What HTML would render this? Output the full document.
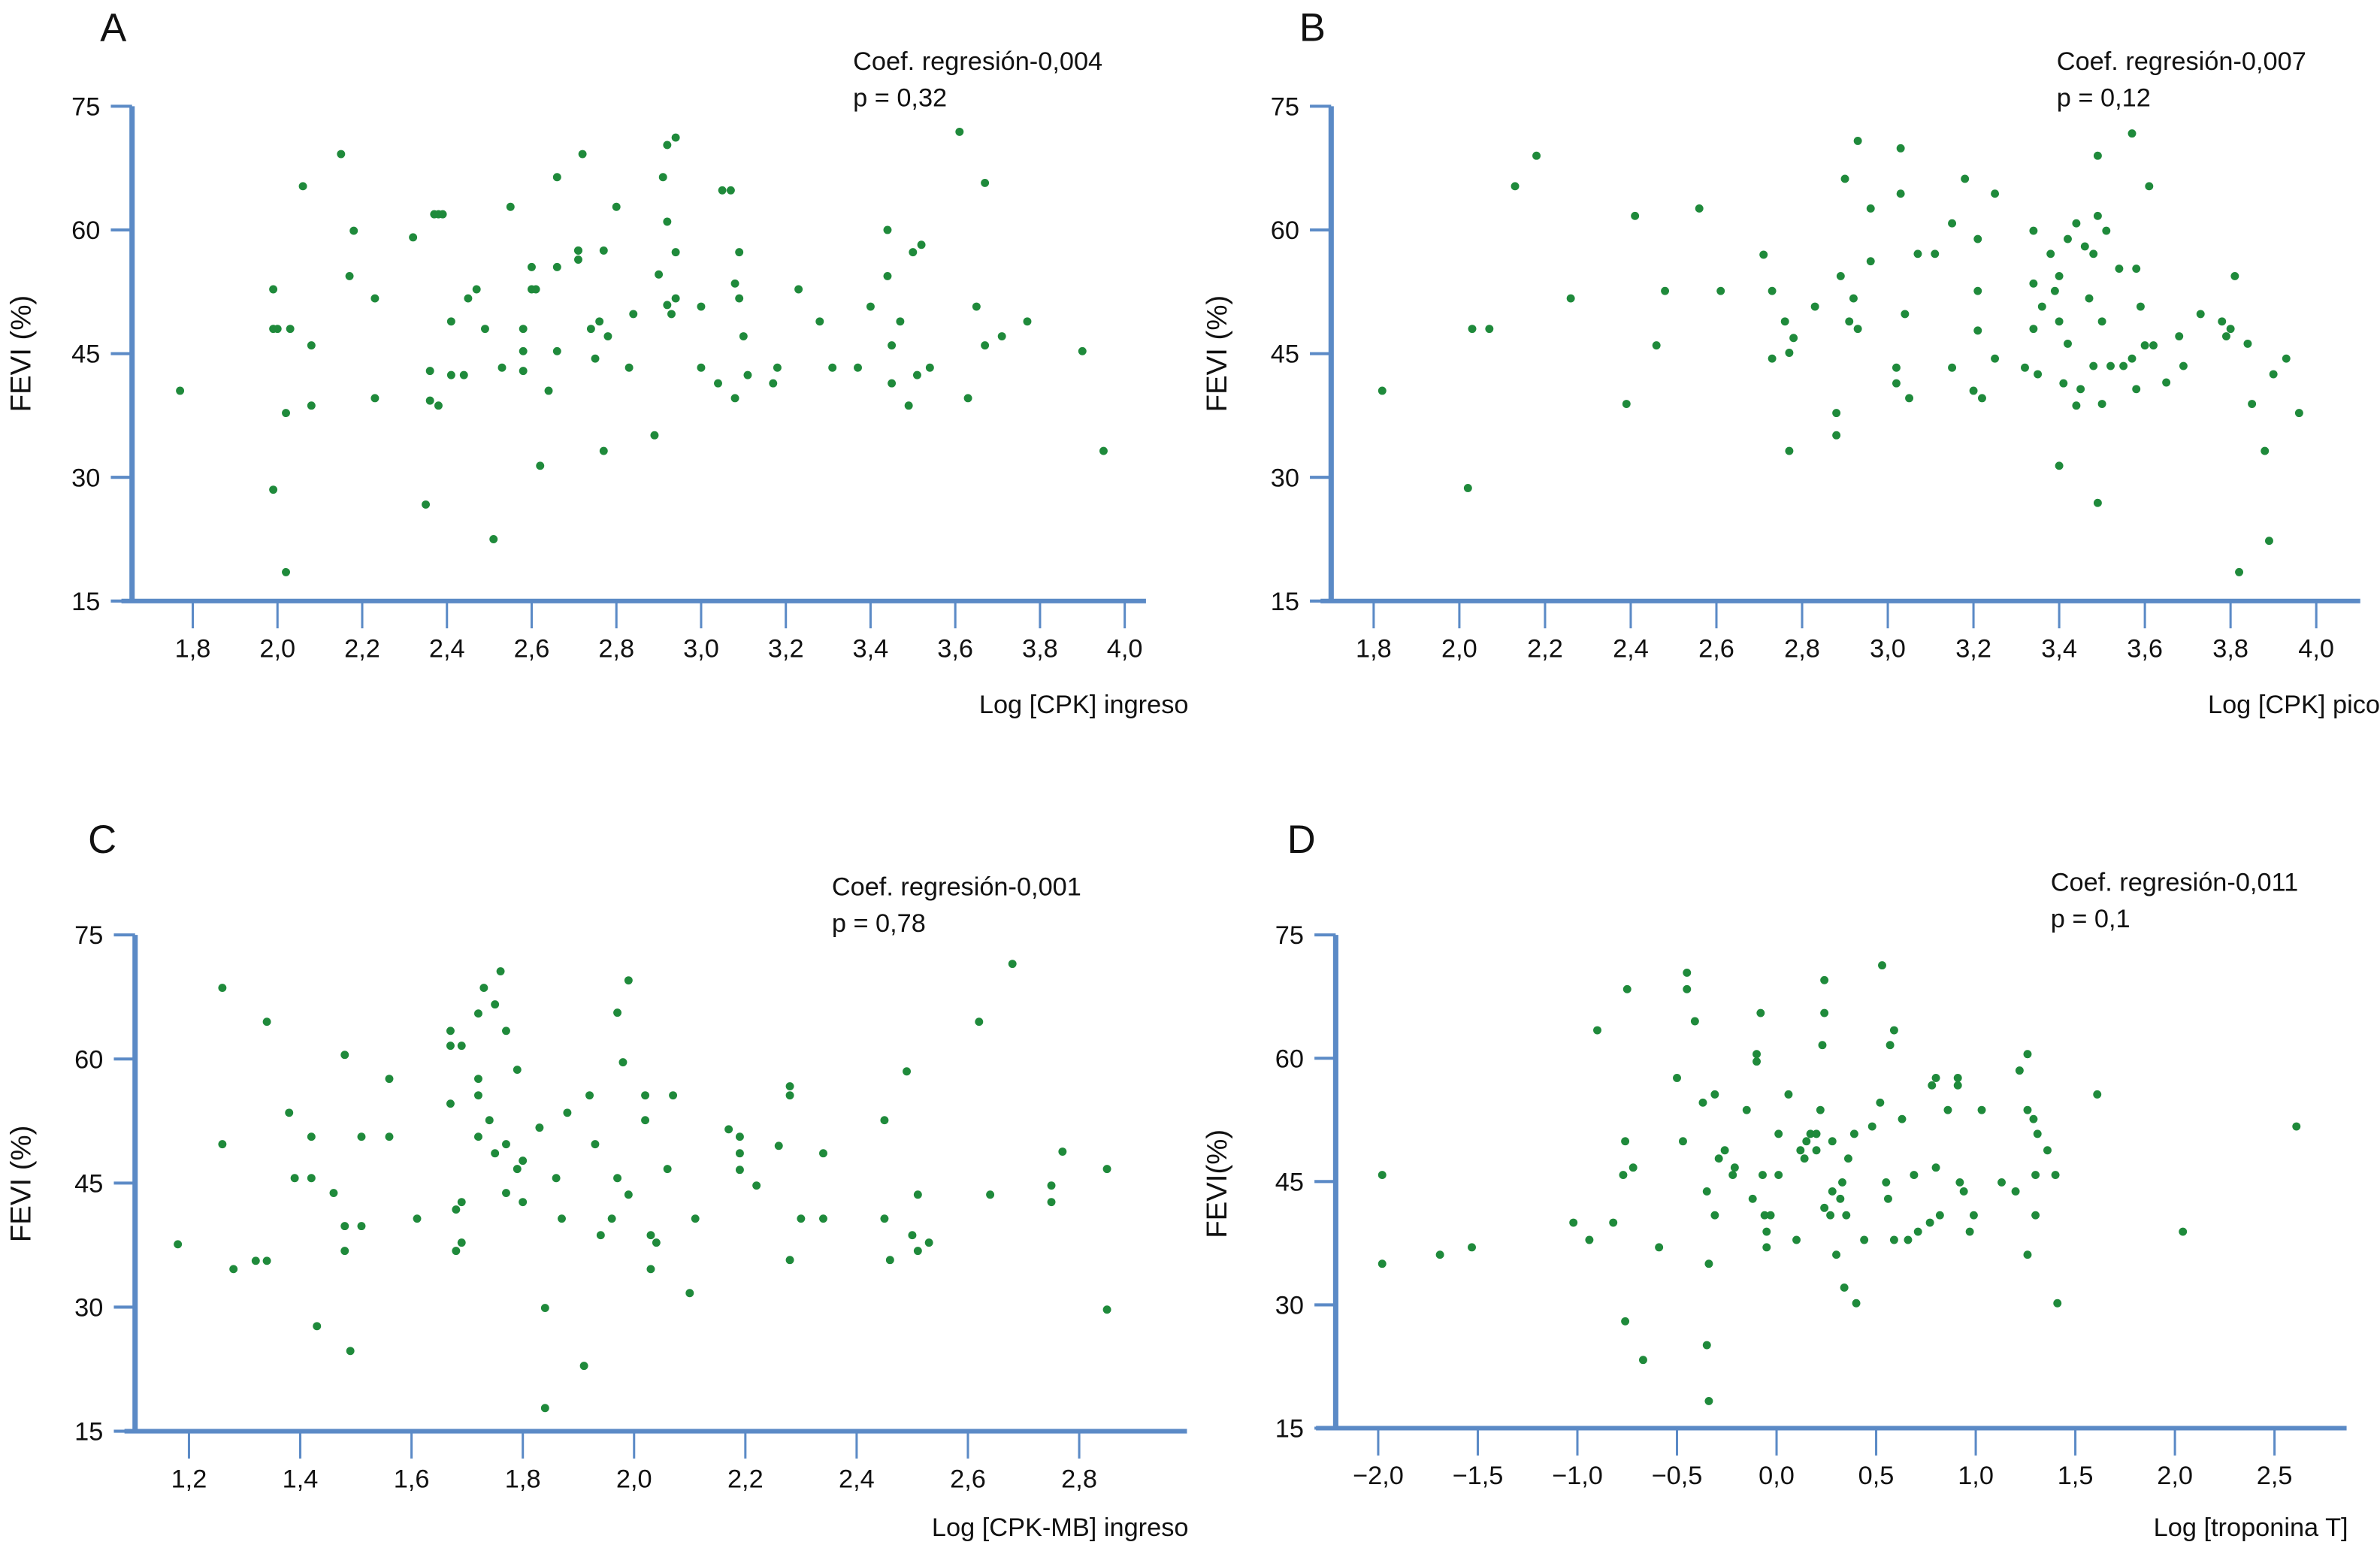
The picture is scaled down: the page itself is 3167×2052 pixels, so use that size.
<!DOCTYPE html>
<html><head><meta charset="utf-8"><style>
html,body{margin:0;padding:0;background:#fff;}
svg{display:block;}
text{font-family:"Liberation Sans",sans-serif;fill:#111;}
</style></head><body>
<svg id="fig" width="3167" height="2052" viewBox="0 0 1568 1016" preserveAspectRatio="none" xmlns="http://www.w3.org/2000/svg"></svg>
<script>
const yTicks=[15,30,45,60,75];
const aTicks=[1.8,2.0,2.2,2.4,2.6,2.8,3.0,3.2,3.4,3.6,3.8,4.0];
const bTicks=[1.8,2.0,2.2,2.4,2.6,2.8,3.0,3.2,3.4,3.6,3.8,4.0];
const cTicks=[1.2,1.4,1.6,1.8,2.0,2.2,2.4,2.6,2.8];
const dTicks=[-2.0,-1.5,-1.0,-0.5,0.0,0.5,1.0,1.5,2.0,2.5];
const aX=[1.77,1.99,1.99,1.99,2.00,2.02,2.02,2.03,2.06,2.08,2.08,2.15,2.17,2.18,2.23,2.23,2.32,2.35,2.36,2.36,2.37,2.38,2.38,2.39,2.41,2.41,2.44,2.45,2.47,2.49,2.51,2.53,2.55,2.58,2.58,2.58,2.60,2.60,2.61,2.62,2.64,2.66,2.66,2.66,2.71,2.72,2.71,2.71,2.74,2.75,2.76,2.77,2.77,2.78,2.80,2.83,2.84,2.89,2.90,2.91,2.92,2.92,2.92,2.93,2.94,2.94,2.94,3.00,3.00,3.04,3.05,3.07,3.08,3.08,3.09,3.10,3.09,3.11,3.17,3.18,3.23,3.28,3.31,3.37,3.40,3.44,3.44,3.45,3.45,3.47,3.49,3.50,3.51,3.52,3.54,3.61,3.63,3.65,3.67,3.67,3.71,3.77,3.90,3.95];
const aY=[40.5,52.8,48.0,28.5,48.0,18.5,37.8,48.0,65.3,38.7,46.0,69.2,54.4,59.9,51.7,39.6,59.1,26.7,39.3,42.9,61.9,38.7,61.9,61.9,42.4,48.9,42.4,51.7,52.8,48.0,22.5,43.3,62.8,42.9,48.0,45.3,52.8,55.5,52.8,31.4,40.5,45.3,66.4,55.5,57.5,69.2,57.5,56.4,48.0,44.4,48.9,57.5,33.2,47.1,62.8,43.3,49.8,35.1,54.6,66.4,70.3,61.0,50.9,49.8,71.2,57.3,51.7,50.7,43.3,41.4,64.8,64.8,53.5,39.6,57.3,47.1,51.7,42.4,41.4,43.3,52.8,48.9,43.3,43.3,50.7,60.0,54.4,46.0,41.4,48.9,38.7,57.3,42.4,58.2,43.3,71.9,39.6,50.7,65.7,46.0,47.1,48.9,45.3,33.2];
const bX=[1.82,2.02,2.03,2.07,2.13,2.18,2.26,2.39,2.41,2.46,2.48,2.56,2.61,2.71,2.73,2.73,2.76,2.77,2.78,2.77,2.83,2.88,2.88,2.89,2.90,2.91,2.92,2.93,2.96,2.96,2.93,3.02,3.02,3.03,3.03,3.04,3.05,3.07,3.11,3.15,3.15,3.18,3.20,3.21,3.21,3.21,3.22,3.25,3.25,3.32,3.34,3.34,3.34,3.35,3.36,3.38,3.39,3.40,3.40,3.40,3.41,3.42,3.42,3.44,3.44,3.45,3.46,3.47,3.48,3.48,3.49,3.49,3.49,3.50,3.50,3.51,3.52,3.54,3.55,3.57,3.57,3.58,3.58,3.59,3.60,3.61,3.62,3.65,3.68,3.69,3.73,3.78,3.79,3.80,3.81,3.82,3.84,3.85,3.88,3.89,3.90,3.93,3.96];
const bY=[40.5,28.7,48.0,48.0,65.3,69.0,51.7,38.9,61.7,46.0,52.6,62.6,52.6,57.0,52.6,44.4,48.9,45.1,46.9,33.2,50.7,37.8,35.1,54.4,66.2,48.9,51.7,70.8,62.6,56.2,48.0,41.4,43.3,69.9,64.4,49.8,39.6,57.1,57.1,43.3,60.8,66.2,40.5,58.9,52.6,47.8,39.6,64.4,44.4,43.3,59.9,53.5,48.0,42.5,50.7,57.1,52.6,31.4,54.4,48.9,41.4,58.9,46.2,60.8,38.7,40.7,58.0,51.7,43.5,57.1,26.9,69.0,61.7,48.9,38.9,59.9,43.5,55.3,43.5,44.4,71.7,55.3,40.7,50.7,46.0,65.3,46.0,41.5,47.1,43.5,49.8,48.9,47.1,48.0,54.4,18.5,46.2,38.9,33.2,22.3,42.5,44.4,37.8];
const cX=[1.18,1.26,1.26,1.28,1.32,1.34,1.34,1.38,1.39,1.42,1.42,1.43,1.46,1.48,1.48,1.48,1.49,1.51,1.51,1.56,1.56,1.61,1.67,1.67,1.67,1.68,1.68,1.69,1.69,1.69,1.72,1.72,1.72,1.72,1.73,1.74,1.75,1.75,1.76,1.77,1.77,1.77,1.79,1.79,1.80,1.80,1.83,1.84,1.84,1.86,1.87,1.88,1.91,1.92,1.93,1.94,1.96,1.97,1.97,1.98,1.99,1.99,2.02,2.02,2.03,2.03,2.04,2.06,2.07,2.10,2.11,2.17,2.19,2.19,2.19,2.22,2.26,2.28,2.28,2.28,2.30,2.34,2.34,2.45,2.46,2.45,2.49,2.50,2.51,2.51,2.53,2.62,2.64,2.68,2.75,2.75,2.77,2.85,2.85];
const cY=[37.6,68.6,49.7,34.6,35.6,35.6,64.5,53.5,45.6,50.6,45.6,27.7,43.8,60.5,36.8,39.8,24.7,50.6,39.8,57.6,50.6,40.7,54.6,63.4,61.6,41.8,36.8,42.7,61.6,37.8,57.6,55.6,65.5,50.6,68.6,52.6,66.6,48.6,70.6,43.8,63.4,49.7,46.7,58.7,47.7,42.7,51.7,29.9,17.8,45.6,40.7,53.5,22.9,55.6,49.7,38.7,40.7,45.6,65.6,59.6,69.5,43.6,55.6,52.6,34.6,38.7,37.8,46.7,55.6,31.7,40.7,51.5,48.6,50.6,46.6,44.7,49.5,55.6,35.7,56.7,40.7,40.7,48.6,52.6,35.7,40.7,58.5,38.7,43.6,36.8,37.8,64.5,43.6,71.5,42.7,44.7,48.8,46.7,29.7];
const dX=[-1.98,-1.98,-1.69,-1.53,-1.02,-0.94,-0.90,-0.82,-0.77,-0.76,-0.75,-0.76,-0.72,-0.67,-0.59,-0.50,-0.47,-0.45,-0.45,-0.41,-0.37,-0.35,-0.35,-0.34,-0.34,-0.31,-0.31,-0.29,-0.26,-0.22,-0.21,-0.15,-0.12,-0.10,-0.10,-0.08,-0.07,-0.06,-0.05,-0.05,-0.03,0.01,0.01,0.06,0.10,0.12,0.14,0.15,0.17,0.20,0.20,0.22,0.23,0.24,0.24,0.24,0.27,0.28,0.28,0.30,0.32,0.33,0.34,0.35,0.36,0.39,0.40,0.44,0.48,0.52,0.53,0.55,0.56,0.57,0.59,0.59,0.63,0.66,0.69,0.71,0.77,0.78,0.80,0.80,0.82,0.86,0.92,0.94,0.91,0.91,0.99,0.97,1.03,1.13,1.20,1.22,1.26,1.26,1.29,1.31,1.36,1.30,1.40,1.30,1.26,1.41,1.61,2.04,2.61];
const dY=[45.8,35.0,36.1,37.0,40.0,37.9,63.4,40.0,45.8,49.9,68.4,28.0,46.7,23.3,37.0,57.6,49.9,70.4,68.4,64.5,54.6,43.8,25.1,35.0,18.3,55.6,40.9,47.8,48.8,45.8,46.7,53.7,42.9,60.5,59.6,65.5,45.8,40.9,37.0,38.9,40.9,45.8,50.8,55.6,37.9,48.8,47.8,49.9,50.8,50.8,48.8,53.7,61.6,65.5,69.5,41.8,40.9,49.9,43.8,36.1,42.9,44.9,32.1,40.9,47.8,50.8,30.2,37.9,51.7,54.6,71.3,44.9,42.9,61.6,37.9,63.4,52.6,37.9,45.8,38.9,40.0,56.7,57.6,46.7,40.9,53.7,44.9,43.8,57.6,56.7,40.9,38.9,53.7,44.9,43.8,58.5,60.5,53.7,52.6,50.8,48.8,45.8,45.8,40.9,36.1,30.2,55.6,38.9,51.7];

const NS="http://www.w3.org/2000/svg";
const svg=document.getElementById('fig');
const AX="#5b8ac6";
function mk(tag,attrs,parent){const e=document.createElementNS(NS,tag);for(const k in attrs)e.setAttribute(k,attrs[k]);(parent||svg).appendChild(e);return e;}
function txt(s,x,y,size,anchor,parent){const t=mk('text',{x:x,y:y,'font-size':size,'text-anchor':anchor||'start'},parent);t.textContent=s;return t;}

function panel(p){
  const g=mk('g',{});
  
  
  const sx=v=>p.x0px+(v-p.x0v)*(p.x1px-p.x0px)/(p.x1v-p.x0v);
  const sy=v=>p.yBot+(v-15)*(p.yTop-p.yBot)/60;
  const lt=txt(p.id,p.letter[0],p.letter[1],26,'start',g);
  
  const a1=txt(p.coef,p.ann[0],p.ann[1],17,'start',g);
  
  const a2=txt(p.pval,p.ann[0],p.ann[1]+24,17,'start',g);
  
  const ya=mk('line',{x1:p.yAxX,y1:sy(75),x2:p.yAxX,y2:p.yBot+1,stroke:AX,'stroke-width':3.5},g);
  
  yTicks.forEach(v=>{
    const tk=mk('line',{x1:p.yAxX-14,y1:sy(v),x2:p.yAxX,y2:sy(v),stroke:AX,'stroke-width':2},g);
    
    const tl=txt(String(v),p.yAxX-21,sy(v)+6,17,'end',g);
    
  });
  const xa=mk('line',{x1:p.xAxFrom,y1:p.yBot,x2:p.xAxTo,y2:p.yBot,stroke:AX,'stroke-width':3},g);
  
  p.ticks.forEach(v=>{
    const tk=mk('line',{x1:sx(v),y1:p.yBot,x2:sx(v),y2:p.yBot+18,stroke:AX,'stroke-width':1.5},g);
    
    const s=v.toFixed(1).replace('.',',').replace('-','\u2212');
    const tl=txt(s,sx(v),p.yBot+37,17,'middle',g);
    
  });
  const xt=txt(p.xTitle,p.xTitlePos[0],p.xTitlePos[1],17,'end',g);
  
  const ytt=txt(p.yTitle,0,0,19,'middle',g);
  ytt.setAttribute('transform','translate('+p.yTitlePos[0]+','+p.yTitlePos[1]+') rotate(-90)');
  
  for(let i=0;i<p.xs.length;i++){
    const c=mk('circle',{cx:sx(p.xs[i]),cy:sy(p.ys[i]),r:2.7,fill:'#1f8a3b'},g);
    
    
  }
}
panel({id:'A',letter:[66,27],ann:[562,46],coef:'Coef. regresión-0,004',pval:'p = 0,32',yAxX:87,yTop:70,yBot:396,x0v:1.8,x1v:4.0,x0px:127,x1px:741,xAxFrom:80,xAxTo:755,ticks:aTicks,xTitle:'Log [CPK] ingreso',xTitlePos:[783,470],yTitle:'FEVI (%)',yTitlePos:[20,233],xs:aX,ys:aY});
panel({id:'B',letter:[856,27],ann:[1355,46],coef:'Coef. regresión-0,007',pval:'p = 0,12',yAxX:877,yTop:70,yBot:396,x0v:1.8,x1v:4.0,x0px:905,x1px:1526,xAxFrom:870,xAxTo:1555,ticks:bTicks,xTitle:'Log [CPK] pico',xTitlePos:[1568,470],yTitle:'FEVI (%)',yTitlePos:[808,233],xs:bX,ys:bY});
panel({id:'C',letter:[58,562],ann:[548,590],coef:'Coef. regresión-0,001',pval:'p = 0,78',yAxX:89,yTop:616,yBot:943,x0v:1.2,x1v:2.8,x0px:124.5,x1px:711,xAxFrom:82,xAxTo:782,ticks:cTicks,xTitle:'Log [CPK-MB] ingreso',xTitlePos:[783,1012],yTitle:'FEVI (%)',yTitlePos:[20,780],xs:cX,ys:cY});
panel({id:'D',letter:[848,562],ann:[1351,587],coef:'Coef. regresión-0,011',pval:'p = 0,1',yAxX:880,yTop:616,yBot:941,x0v:-2.0,x1v:2.5,x0px:908,x1px:1498.5,xAxFrom:867,xAxTo:1546,ticks:dTicks,xTitle:'Log [troponina T]',xTitlePos:[1547,1012],yTitle:'FEVI(%)',yTitlePos:[808,780],xs:dX,ys:dY});
</script>
</body></html>
